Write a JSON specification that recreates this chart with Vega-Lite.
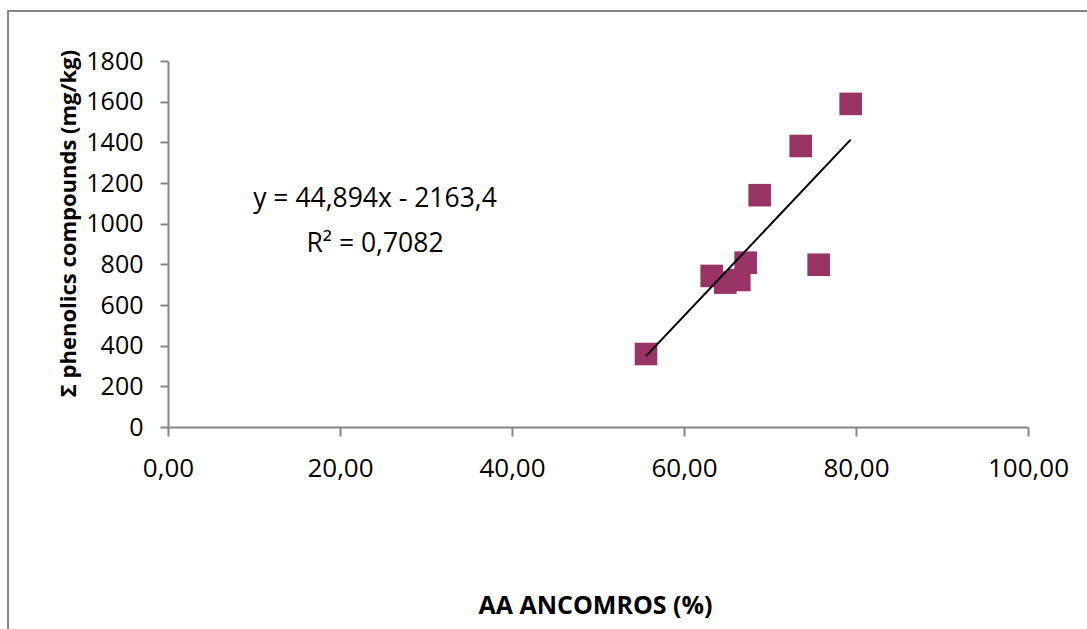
{
  "$schema": "https://vega.github.io/schema/vega-lite/v6.json",
  "width": 860,
  "height": 366,
  "autosize": {"type": "none"},
  "padding": {"left": 168, "top": 61, "right": 59, "bottom": 202},
  "background": "white",
  "config": {
    "view": {"stroke": null},
    "font": "Open Sans",
    "axis": {"domainColor": "#868686", "domainWidth": 2, "tickColor": "#868686", "tickWidth": 2, "grid": false, "labelColor": "#000000", "titleColor": "#000000", "labelFont": "Open Sans", "titleFont": "Open Sans", "labelFlush": false, "labelOverlap": false}
  },
  "data": {
    "values": [
      {"aa": 55.58, "phenolics": 359},
      {"aa": 79.38, "phenolics": 1589},
      {"aa": 73.57, "phenolics": 1382},
      {"aa": 68.8, "phenolics": 1140},
      {"aa": 75.66, "phenolics": 798},
      {"aa": 67.17, "phenolics": 808},
      {"aa": 63.22, "phenolics": 743},
      {"aa": 64.8, "phenolics": 710},
      {"aa": 66.43, "phenolics": 723}
    ]
  },
  "layer": [
    {
      "data": {"values": [{}]},
      "mark": {"type": "rect", "fill": null, "stroke": "#868686", "strokeWidth": 2, "clip": false},
      "encoding": {
        "x": {"datum": -18.6, "type": "quantitative", "scale": {"domain": [0, 100], "nice": false, "zero": false}},
        "x2": {"datum": 150},
        "y": {"datum": 2046, "type": "quantitative", "scale": {"domain": [0, 1800], "nice": false, "zero": false}},
        "y2": {"datum": -1500}
      }
    },
    {
      "mark": {"type": "point", "shape": "square", "filled": true, "size": 510, "color": "#993366", "opacity": 1},
      "encoding": {
        "x": {
          "field": "aa", "type": "quantitative",
          "scale": {"domain": [0, 100], "nice": false, "zero": false},
          "axis": {"values": [0, 20, 40, 60, 80, 100], "labelExpr": "replace(format(datum.value, '.2f'), '.', ',')", "tickSize": 9, "labelPadding": 19, "labelFontSize": 26, "title": "AA ANCOMROS (%)", "titleFontSize": 25, "titleFontWeight": "bold", "titleY": 178, "titleX": 427, "titleBaseline": "middle", "titleAlign": "center"}
        },
        "y": {
          "field": "phenolics", "type": "quantitative",
          "scale": {"domain": [0, 1800], "nice": false, "zero": false},
          "axis": {"values": [0, 200, 400, 600, 800, 1000, 1200, 1400, 1600, 1800], "format": "d", "tickSize": 8, "labelPadding": 17, "labelFontSize": 25, "title": "Σ phenolics compounds (mg/kg)", "titleFontSize": 22, "titleFontWeight": "bold", "titleAngle": 270, "titleX": -100, "titleY": 162, "titleAlign": "center", "titleBaseline": "middle"}
        }
      }
    },
    {
      "transform": [{"regression": "phenolics", "on": "aa"}],
      "mark": {"type": "line", "color": "#000000", "strokeWidth": 2},
      "encoding": {
        "x": {"field": "aa", "type": "quantitative"},
        "y": {"field": "phenolics", "type": "quantitative"}
      }
    },
    {
      "data": {"values": [{}]},
      "mark": {"type": "text", "fontSize": 26.5, "font": "Open Sans", "color": "#000000", "align": "center", "baseline": "middle"},
      "encoding": {
        "x": {"datum": 24.07, "type": "quantitative"},
        "y": {"datum": 1121, "type": "quantitative"},
        "text": {"value": "y = 44,894x - 2163,4"}
      }
    },
    {
      "data": {"values": [{}]},
      "mark": {"type": "text", "fontSize": 26.5, "font": "Open Sans", "color": "#000000", "align": "center", "baseline": "middle"},
      "encoding": {
        "x": {"datum": 24.07, "type": "quantitative"},
        "y": {"datum": 900, "type": "quantitative"},
        "text": {"value": "R² = 0,7082"}
      }
    }
  ]
}
